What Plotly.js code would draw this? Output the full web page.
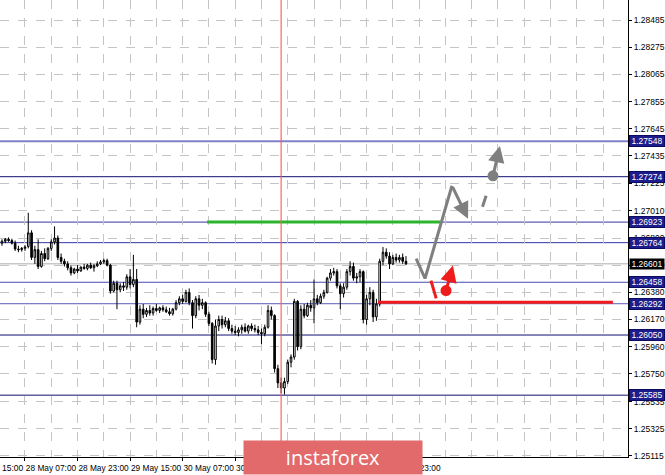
<!DOCTYPE html>
<html><head><meta charset="utf-8">
<script src="https://cdn.plot.ly/plotly-3.0.1.min.js"></script>
<style>html,body{margin:0;padding:0;background:#fff}#chart{width:665px;height:475px}</style>
</head><body><div id="chart"></div>
<script>
// ---- data ----
const firstBar = 9;
const openP  = [1.26760,1.26775,1.26790,1.26780,1.26760,1.26715,1.26710,1.26720,1.26735,1.26840,1.26650,1.26710,1.26580,1.26680,1.26640,1.26720,1.26770,1.26800,1.26650,1.26620,1.26600,1.26570,1.26530,1.26560,1.26545,1.26575,1.26565,1.26590,1.26570,1.26585,1.26600,1.26615,1.26625,1.26590,1.26390,1.26450,1.26400,1.26430,1.26420,1.26500,1.26440,1.26480,1.26150,1.26250,1.26210,1.26240,1.26220,1.26255,1.26240,1.26260,1.26245,1.26230,1.26215,1.26250,1.26300,1.26330,1.26310,1.26380,1.26300,1.26200,1.26330,1.26280,1.26300,1.26210,1.26140,1.25860,1.26120,1.26170,1.26130,1.26160,1.26100,1.26080,1.26070,1.26090,1.26110,1.26080,1.26120,1.26100,1.26090,1.26070,1.26060,1.26110,1.26240,1.26200,1.25790,1.25680,1.25640,1.25690,1.25840,1.25880,1.26310,1.25960,1.26250,1.26200,1.26280,1.26260,1.26330,1.26300,1.26350,1.26380,1.26490,1.26530,1.26540,1.26430,1.26370,1.26420,1.26540,1.26580,1.26490,1.26500,1.26540,1.26170,1.26330,1.26380,1.26190,1.26290,1.26620,1.26690,1.26660,1.26600,1.26650,1.26630,1.26650,1.26620];
const highP  = [1.26790,1.26800,1.26805,1.26795,1.26780,1.26740,1.26730,1.26745,1.26995,1.26860,1.26740,1.26790,1.26700,1.26720,1.26730,1.26790,1.26890,1.26820,1.26680,1.26640,1.26620,1.26590,1.26570,1.26590,1.26580,1.26600,1.26600,1.26610,1.26600,1.26620,1.26630,1.26640,1.26640,1.26600,1.26470,1.26470,1.26450,1.26460,1.26520,1.26560,1.26670,1.26560,1.26280,1.26290,1.26260,1.26280,1.26270,1.26290,1.26270,1.26280,1.26270,1.26260,1.26260,1.26320,1.26350,1.26360,1.26400,1.26410,1.26320,1.26350,1.26360,1.26330,1.26310,1.26230,1.26150,1.26170,1.26200,1.26200,1.26190,1.26180,1.26130,1.26120,1.26110,1.26130,1.26140,1.26130,1.26140,1.26130,1.26120,1.26100,1.26130,1.26280,1.26270,1.26210,1.25820,1.25720,1.25720,1.25860,1.25900,1.26330,1.26320,1.26280,1.26290,1.26300,1.26320,1.26480,1.26360,1.26370,1.26400,1.26500,1.26560,1.26570,1.26560,1.26450,1.26450,1.26560,1.26620,1.26610,1.26530,1.26560,1.26550,1.26360,1.26420,1.26400,1.26330,1.26640,1.26730,1.26720,1.26690,1.26670,1.26680,1.26670,1.26680,1.26660];
const lowP   = [1.26740,1.26760,1.26770,1.26750,1.26700,1.26690,1.26695,1.26700,1.26720,1.26630,1.26600,1.26560,1.26570,1.26620,1.26630,1.26700,1.26750,1.26630,1.26600,1.26580,1.26550,1.26510,1.26520,1.26530,1.26540,1.26555,1.26550,1.26560,1.26540,1.26575,1.26590,1.26600,1.26580,1.26370,1.26380,1.26250,1.26380,1.26390,1.26400,1.26410,1.26420,1.26110,1.26130,1.26180,1.26190,1.26200,1.26200,1.26230,1.26220,1.26230,1.26220,1.26200,1.26200,1.26240,1.26280,1.26290,1.26300,1.26280,1.26100,1.26180,1.26240,1.26250,1.26190,1.26120,1.25830,1.25820,1.26080,1.26100,1.26110,1.26080,1.26060,1.26050,1.26040,1.26060,1.26070,1.26060,1.26080,1.26070,1.26050,1.25980,1.26040,1.26100,1.26170,1.25760,1.25640,1.25600,1.25590,1.25670,1.25800,1.25860,1.25930,1.25940,1.26180,1.26190,1.26230,1.26140,1.26280,1.26290,1.26330,1.26370,1.26470,1.26510,1.26410,1.26250,1.26340,1.26400,1.26510,1.26470,1.26450,1.26460,1.26140,1.26130,1.26280,1.26150,1.26160,1.26270,1.26590,1.26640,1.26560,1.26590,1.26610,1.26610,1.26600,1.26590];
const closeP = [1.26775,1.26790,1.26780,1.26760,1.26715,1.26710,1.26720,1.26730,1.26840,1.26650,1.26710,1.26580,1.26680,1.26640,1.26720,1.26770,1.26800,1.26650,1.26620,1.26600,1.26570,1.26530,1.26560,1.26545,1.26575,1.26565,1.26590,1.26570,1.26585,1.26600,1.26615,1.26625,1.26590,1.26390,1.26450,1.26400,1.26430,1.26420,1.26500,1.26440,1.26480,1.26150,1.26250,1.26210,1.26240,1.26220,1.26255,1.26240,1.26260,1.26245,1.26230,1.26215,1.26250,1.26300,1.26330,1.26310,1.26380,1.26300,1.26200,1.26330,1.26280,1.26300,1.26210,1.26140,1.25860,1.26120,1.26170,1.26130,1.26160,1.26100,1.26080,1.26070,1.26090,1.26110,1.26080,1.26120,1.26100,1.26090,1.26070,1.26060,1.26110,1.26240,1.26200,1.25790,1.25680,1.25640,1.25690,1.25840,1.25880,1.26310,1.25960,1.26250,1.26200,1.26280,1.26260,1.26330,1.26300,1.26350,1.26380,1.26490,1.26530,1.26540,1.26430,1.26370,1.26420,1.26540,1.26580,1.26490,1.26500,1.26540,1.26170,1.26330,1.26380,1.26190,1.26290,1.26620,1.26690,1.26660,1.26600,1.26650,1.26630,1.26650,1.26620,1.26601];

const xTickBars   = [16, 32, 48, 64, 80, 96, 112, 128];
const xTickLabels = ["28 May 07:00","28 May 23:00","29 May 15:00","30 May 07:00","30 May 23:00","31 May 15:00","3 Jun 07:00","3 Jun 23:00"];
const yTickVals   = [1.25115,1.25325,1.25535,1.25750,1.25960,1.26170,1.26380,1.26590,1.26800,1.27010,1.27225,1.27435,1.27645,1.27855,1.28065,1.28275,1.28485];

const levels     = [1.27548, 1.27274, 1.26923, 1.26764, 1.26458, 1.26292, 1.26050, 1.25585];
const lastPrice  = 1.26601;
const markerBar  = 94;              // red vertical line (bar number)

const greenSeg   = {bars: [71.4, 142.4], prices: [1.26923, 1.26923]};
const redSeg     = {bars: [123.5, 195.0], prices: [1.26304, 1.26304]};
const grayPathBars   = [135.1, 137.8, 146.0];
const grayPathPrices = [1.26641, 1.26487, 1.27204];
const grayArrowEnd   = [150.9, 1.26949];
const grayDashBars   = [155.3, 156.4];
const grayDashPrices = [1.27042, 1.27127];
const grayDot        = [158.5, 1.27281];
const grayUpEnd      = [160.6, 1.27512];
const redStrokeBars   = [139.6, 141.2];
const redStrokePrices = [1.26471, 1.26333];
const redDot          = [144.2, 1.26394];
const redUpEnd        = [146.3, 1.26587];

// ---- styles ----
const levelColors = ['#8080c8','#101070','#3535a5','#3535a5','#4a4ab5','#5a5ab8','#101070','#101070'];
const levelWidths = [2, 1, 1, 1, 1, 1, 1, 1];
const FONT = 'Liberation Sans, Arial, sans-serif';
const GRAY = '#7f7f7f', RED = '#ee1c1c';

const xs = openP.map((_, k) => firstBar + k);

const traces = [
  {type:'candlestick', x: xs, open: openP, high: highP, low: lowP, close: closeP,
   increasing:{line:{color:'#000', width:1}, fillcolor:'#ffffff'},
   decreasing:{line:{color:'#000', width:1}, fillcolor:'#000000'},
   whiskerwidth:0, hoverinfo:'skip', showlegend:false},
  {type:'scatter', mode:'lines', x: greenSeg.bars, y: greenSeg.prices, line:{color:'#2cb52c', width:3}, hoverinfo:'skip', showlegend:false},
  {type:'scatter', mode:'lines', x: redSeg.bars, y: redSeg.prices, line:{color:RED, width:3}, hoverinfo:'skip', showlegend:false},
  {type:'scatter', mode:'lines', x: grayPathBars, y: grayPathPrices, line:{color:GRAY, width:3}, hoverinfo:'skip', showlegend:false},
  {type:'scatter', mode:'lines', x: grayDashBars, y: grayDashPrices, line:{color:GRAY, width:3}, hoverinfo:'skip', showlegend:false},
  {type:'scatter', mode:'lines', x: redStrokeBars, y: redStrokePrices, line:{color:RED, width:3}, hoverinfo:'skip', showlegend:false},
  {type:'scatter', mode:'markers', x:[grayDot[0]], y:[grayDot[1]], marker:{color:GRAY, size:11}, hoverinfo:'skip', showlegend:false},
  {type:'scatter', mode:'markers', x:[redDot[0]], y:[redDot[1]], marker:{color:RED, size:11}, hoverinfo:'skip', showlegend:false}
];

const shapes = [];
levels.forEach((lv, k) => shapes.push({type:'line', xref:'paper', x0:0, x1:1, yref:'y', y0:lv, y1:lv,
  line:{color:levelColors[k], width:levelWidths[k]}, layer:'below'}));
shapes.push({type:'line', xref:'paper', x0:0, x1:1, yref:'y', y0:lastPrice, y1:lastPrice, line:{color:'#c8c8c8', width:1.5}, layer:'below'});
shapes.push({type:'line', xref:'x', x0:markerBar, x1:markerBar, yref:'paper', y0:0, y1:1, line:{color:'rgba(255,90,90,0.75)', width:1.5}, layer:'above'});

const annotations = [];
levels.forEach(lv => annotations.push({xref:'paper', x:1, xanchor:'left', xshift:1, yref:'y', y:lv, yanchor:'middle',
  text: lv.toFixed(5), showarrow:false, bgcolor:'#1c1c8a', bordercolor:'#0a0a60', borderwidth:1, borderpad:0,
  width:34, height:10, font:{family:FONT, size:8.5, color:'#ffffff'}}));
annotations.push({xref:'paper', x:1, xanchor:'left', xshift:1, yref:'y', y:lastPrice, yanchor:'middle',
  text: lastPrice.toFixed(5), showarrow:false, bgcolor:'#000000', borderpad:0, width:34, height:10,
  font:{family:FONT, size:8.5, color:'#ffffff'}});
const arrow = (tip, tail, color) => ({xref:'x', yref:'y', axref:'x', ayref:'y', x: tip[0], y: tip[1], ax: tail[0], ay: tail[1],
  text:'', showarrow:true, arrowhead:2, arrowsize:1.1, arrowwidth:3, arrowcolor: color});
annotations.push(arrow(grayArrowEnd, [grayPathBars[2], grayPathPrices[2]], GRAY));
annotations.push(arrow(grayUpEnd, grayDot, GRAY));
annotations.push(arrow(redUpEnd, redDot, RED));
annotations.push({xref:'paper', yref:'paper', x:0, y:0, xanchor:'left', yanchor:'top', yshift:-4, text:'15:00', showarrow:false,
  font:{family:FONT, size:8.5, color:'#000'}});
annotations.push({xref:'paper', yref:'paper', x:0.531, y:-0.002, xanchor:'center', yanchor:'middle', text:'instaforex',
  showarrow:false, bgcolor:'#e26a6a', width:178, height:33, borderpad:0,
  font:{family:'Open Sans, sans-serif', size:20, color:'#ffffff'}});

const layout = {
  width:665, height:475, margin:{l:0, r:37, t:0, b:18},
  paper_bgcolor:'#ffffff', plot_bgcolor:'#ffffff', showlegend:false,
  xaxis:{range:[8.39, 199.6], rangeslider:{visible:false}, tickmode:'array', tickvals:xTickBars, ticktext:xTickLabels,
    tickangle:0, ticks:'outside', ticklen:3, tickcolor:'#000', ticklabelshift:26, ticklabelstandoff:0,
    showline:true, linecolor:'#000', linewidth:1,
    showgrid:true, gridcolor:'#c4c4c4', griddash:'dash', zeroline:false,
    minor:{tickmode:'linear', tick0:0, dtick:8, showgrid:true, gridcolor:'#c4c4c4', griddash:'dash', ticks:''},
    tickfont:{family:FONT, size:8.3, color:'#000'}, fixedrange:true},
  yaxis:{side:'right', range:[1.25107, 1.28640], tickmode:'array', tickvals:yTickVals, ticktext:yTickVals.map(v=>v.toFixed(5)),
    ticks:'outside', ticklen:3, tickcolor:'#000', showline:true, linecolor:'#000', linewidth:1,
    showgrid:true, gridcolor:'#c4c4c4', griddash:'dash', zeroline:false,
    tickfont:{family:FONT, size:8.5, color:'#000'}, fixedrange:true},
  shapes: shapes, annotations: annotations
};
Plotly.newPlot('chart', traces, layout, {displayModeBar:false, staticPlot:true});
</script></body></html>
